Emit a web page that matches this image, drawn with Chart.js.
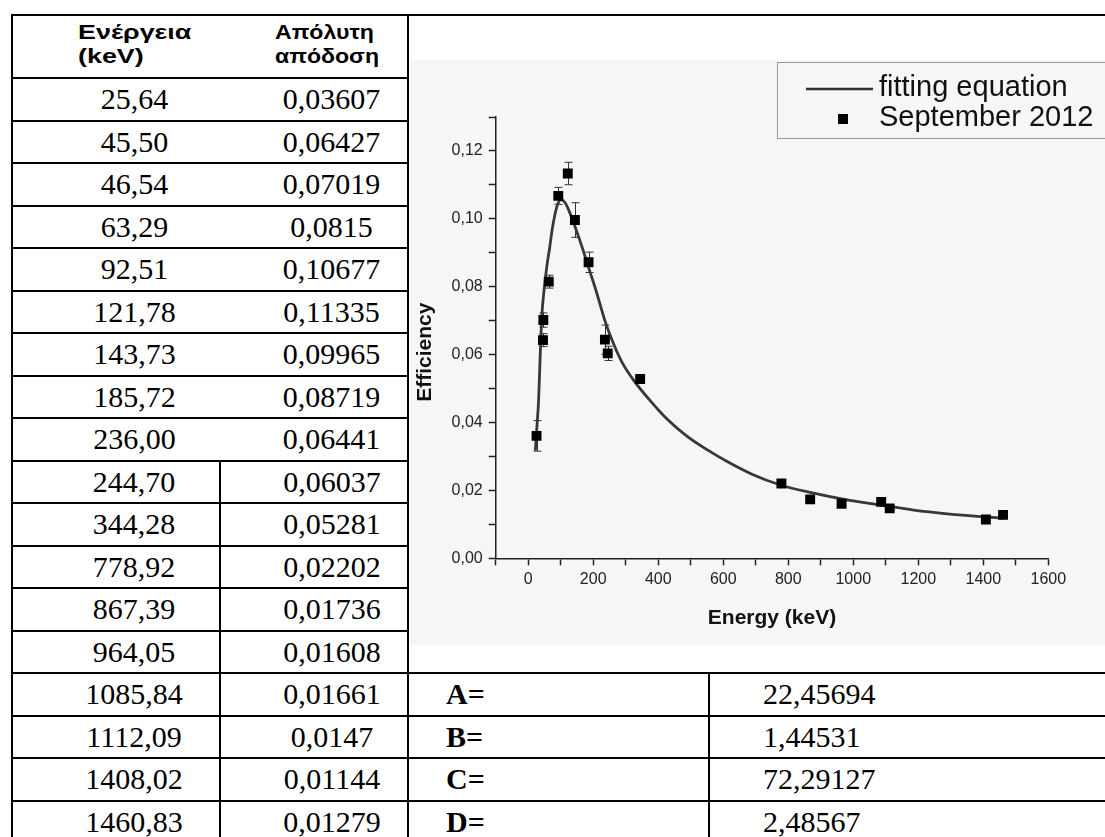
<!DOCTYPE html>
<html>
<head>
<meta charset="utf-8">
<title>Efficiency - September 2012</title>
<script src="https://cdn.jsdelivr.net/npm/chart.js@4.4.0/dist/chart.umd.min.js"></script>
<style>
  html, body { margin: 0; padding: 0; background: #fff; width: 1105px; height: 837px; overflow: hidden; }
  #sheet { position: absolute; left: 11px; top: 14px; border-collapse: collapse; table-layout: fixed; width: 1097px; }
  #sheet td { border: 2px solid #000; padding: 0; vertical-align: middle; white-space: nowrap; }
  #sheet td.nosep { border-right-style: hidden; }
  #sheet tr { height: 42.5px; }
  #sheet tr.head { height: 63px; }
  .h { font: bold 21px "Liberation Sans", Arial, sans-serif; line-height: 24px; text-align: left; }
  .h span { display: inline-block; transform-origin: left center; position: relative; top: -3px; }
  .h.c1 { padding-left: 65px !important; }
  .h.c1 span { transform: scaleX(1.28); }
  .h.c2 { padding-left: 55px !important; }
  .h.c2 span { transform: scaleX(1.1); }
  .num { font: 30px "Liberation Serif", "Times New Roman", serif; text-align: center; padding-left: 36px !important; }
  .par { font: bold 30px "Liberation Serif", "Times New Roman", serif; padding-left: 37px !important; }
  .val { font: 30px "Liberation Serif", "Times New Roman", serif; padding-left: 53px !important; }
  #chartBox { position: absolute; left: 410px; top: 60px; width: 695px; height: 585px; background: #f6f6f6; }
</style>
</head>
<body>
<table id="sheet">
  <colgroup><col style="width:208px"><col style="width:188px"><col style="width:301px"><col style="width:400px"></colgroup>
  <tbody>
    <tr class="head">
      <td class="h c1 nosep"><span>Ενέργεια<br>(keV)</span></td>
      <td class="h c2"><span>Απόλυτη<br>απόδοση</span></td>
      <td colspan="2" rowspan="15"></td>
    </tr>
  </tbody>
</table>
<div id="chartBox"><canvas id="eff" width="695" height="585"></canvas></div>
<script>
  // measured points (table values)
  const energy = [25.64, 45.50, 46.54, 63.29, 92.51, 121.78, 143.73, 185.72, 236.00, 244.70, 344.28, 778.92, 867.39, 964.05, 1085.84, 1112.09, 1408.02, 1460.83];
  const efficiency = [0.03607, 0.06427, 0.07019, 0.0815, 0.10677, 0.11335, 0.09965, 0.08719, 0.06441, 0.06037, 0.05281, 0.02202, 0.01736, 0.01608, 0.01661, 0.0147, 0.01144, 0.01279];
  // error bars
  const effError = [0.0045, 0.0019, 0.0021, 0.0019, 0.0025, 0.0033, 0.0051, 0.0030, 0.0043, 0.0021, 0.0010, 0.0006, 0.0006, 0.0006, 0.0006, 0.0006, 0.0005, 0.0005];

  // fitted curve
  const fitEnergy = [22, 27, 32, 37, 42, 50, 58, 66, 74, 88, 101, 113, 125, 140, 165, 191, 205, 222, 236, 250, 270, 290, 324, 372, 427, 489, 550, 612, 690, 776, 878, 981, 1083, 1186, 1289, 1391, 1463];
  const fitEfficiency = [0.0317, 0.0390, 0.0467, 0.0600, 0.0715, 0.0800, 0.0865, 0.0915, 0.0970, 0.1035, 0.1057, 0.1048, 0.1025, 0.0988, 0.0919, 0.0841, 0.0800, 0.0745, 0.0700, 0.0662, 0.0615, 0.0575, 0.0525, 0.0468, 0.0410, 0.0359, 0.0320, 0.0285, 0.0247, 0.0216, 0.0192, 0.0172, 0.0157, 0.0142, 0.0131, 0.0123, 0.0118];

  // fit parameters
  const paramNames = ['A', 'B', 'C', 'D'];
  const paramValues = [22.45694, 1.44531, 72.29127, 2.48567];

  // labelled ticks
  const xLabelled = [0, 200, 400, 600, 800, 1000, 1200, 1400, 1600];
  const yLabelled = [0, 0.02, 0.04, 0.06, 0.08, 0.10, 0.12];

  // the scanned table has no column rule in its upper rows
  const rowsWithoutRule = 9;

  const comma = v => String(v).replace('.', ',');

  // table rows
  const tbody = document.querySelector('#sheet tbody');
  energy.forEach((e, i) => {
    const tr = document.createElement('tr');
    const first = i < rowsWithoutRule ? 'num nosep' : 'num';
    let html = '<td class="' + first + '">' + e.toFixed(2).replace('.', ',') + '</td>' +
               '<td class="num">' + comma(efficiency[i]) + '</td>';
    const k = i - (energy.length - paramNames.length);
    if (k >= 0) {
      html += '<td class="par">' + paramNames[k] + '=</td><td class="val">' + comma(paramValues[k]) + '</td>';
    }
    tr.innerHTML = html;
    tbody.appendChild(tr);
  });

  // error bars under the markers
  const errorBars = {
    id: 'errorBars',
    beforeDatasetsDraw(chart) {
      const { ctx, scales: { x, y } } = chart;
      ctx.save();
      ctx.strokeStyle = '#333';
      ctx.lineWidth = 1;
      energy.forEach((e, i) => {
        const px = Math.round(x.getPixelForValue(e)) + 0.5;
        const top = y.getPixelForValue(efficiency[i] + effError[i]);
        const bot = y.getPixelForValue(efficiency[i] - effError[i]);
        ctx.beginPath();
        ctx.moveTo(px, top); ctx.lineTo(px, bot);
        ctx.moveTo(px - 4, top); ctx.lineTo(px + 4, top);
        ctx.moveTo(px - 4, bot); ctx.lineTo(px + 4, bot);
        ctx.stroke();
      });
      ctx.restore();
    }
  };

  // boxed legend at the top right, like the Origin plot
  const boxLegend = {
    id: 'boxLegend',
    afterDraw(chart) {
      const ctx = chart.ctx;
      ctx.save();
      ctx.strokeStyle = '#9a9a9a';
      ctx.lineWidth = 1;
      ctx.strokeRect(367.5, 2.5, 400, 76);
      ctx.strokeStyle = '#333';
      ctx.lineWidth = 2.5;
      ctx.beginPath(); ctx.moveTo(396, 29); ctx.lineTo(463, 29); ctx.stroke();
      ctx.fillStyle = '#000';
      ctx.fillRect(428, 54, 10, 10);
      ctx.fillStyle = '#111';
      ctx.font = '29px "Liberation Sans", Arial, sans-serif';
      ctx.textBaseline = 'middle';
      ctx.fillText('fitting equation', 469, 28);
      ctx.fillText('September 2012', 469, 58);
      ctx.restore();
    }
  };

  Chart.defaults.font.family = '"Liberation Sans", Arial, sans-serif';
  Chart.defaults.color = '#222';

  new Chart(document.getElementById('eff'), {
    type: 'scatter',
    data: {
      datasets: [{
        label: 'September 2012',
        data: energy.map((e, i) => ({ x: e, y: efficiency[i] })),
        pointStyle: 'rect',
        pointRadius: 7,
        pointHoverRadius: 7,
        backgroundColor: '#000',
        borderColor: '#000',
        borderWidth: 0
      }, {
        label: 'fitting equation',
        type: 'line',
        data: fitEnergy.map((e, i) => ({ x: e, y: fitEfficiency[i] })),
        borderColor: '#383838',
        borderWidth: 2.8,
        pointRadius: 0,
        fill: false,
        cubicInterpolationMode: 'monotone'
      }]
    },
    options: {
      responsive: false,
      animation: false,
      layout: { padding: { top: 57, right: 56.7, left: 0, bottom: 0 } },
      plugins: { legend: { display: false }, tooltip: { enabled: false } },
      scales: {
        x: {
          type: 'linear',
          min: -100,
          max: 1600,
          afterFit: s => { s.height = 86.7; },
          border: { display: true, color: '#222', width: 1.5 },
          grid: { drawOnChartArea: false, drawTicks: true, tickLength: 7, tickColor: '#222', tickWidth: 1.5 },
          ticks: {
            stepSize: 100,
            autoSkip: false,
            maxRotation: 0,
            padding: 5,
            font: { size: 16 },
            callback: v => xLabelled.includes(v) ? String(v) : ''
          },
          title: { display: true, text: 'Energy (keV)', font: { size: 21, weight: 'bold' }, color: '#111', padding: { top: 4, bottom: 14 } }
        },
        y: {
          min: 0,
          max: 0.13,
          afterFit: s => { s.width = 85.7; },
          border: { display: true, color: '#222', width: 1.5 },
          grid: { drawOnChartArea: false, drawTicks: true, tickLength: 7, tickColor: '#222', tickWidth: 1.5 },
          ticks: {
            stepSize: 0.01,
            autoSkip: false,
            padding: 6,
            font: { size: 16 },
            callback: v => {
              const hit = yLabelled.find(t => Math.abs(t - v) < 1e-6);
              return hit === undefined ? '' : hit.toFixed(2).replace('.', ',');
            }
          },
          // trailing spaces push the rotated title a little lower, as in the original
          title: { display: true, text: 'Efficiency     ', font: { size: 21, weight: 'bold' }, color: '#111', padding: { top: 3, bottom: 4 } }
        }
      }
    },
    plugins: [errorBars, boxLegend]
  });
</script>
</body>
</html>
